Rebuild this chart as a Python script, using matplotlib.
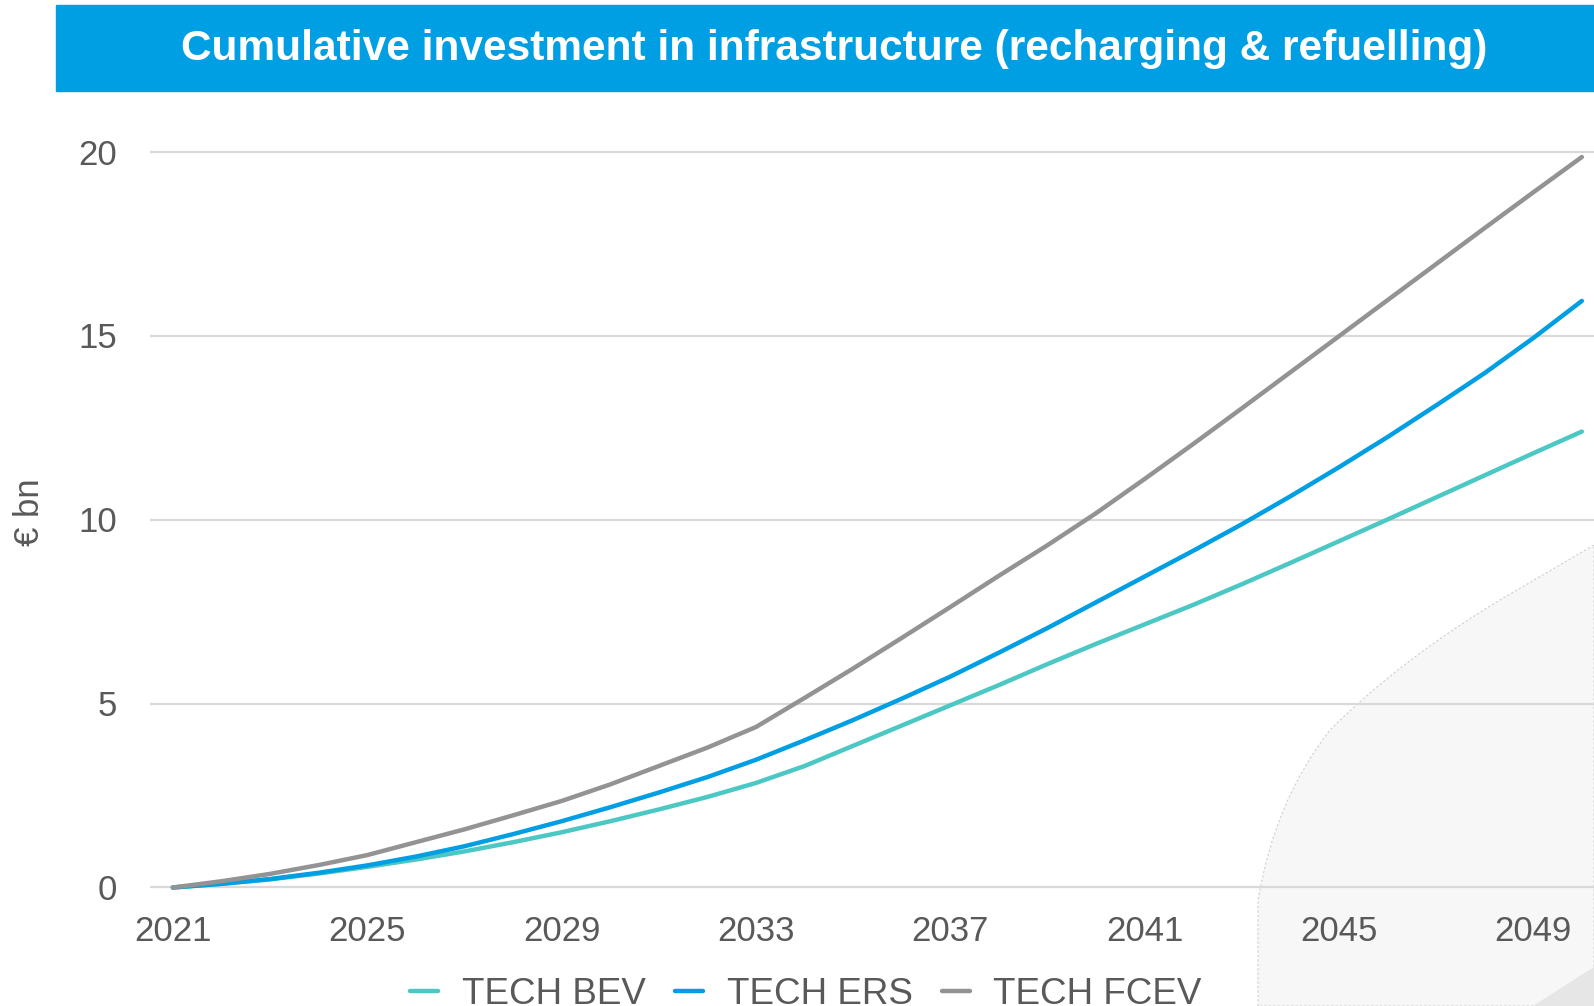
import matplotlib
matplotlib.use("Agg")
import matplotlib.pyplot as plt
from matplotlib.patches import Rectangle, PathPatch
from matplotlib.path import Path

plt.rcParams["font.family"] = ["Liberation Sans", "DejaVu Sans"]

years = list(range(2021, 2051))
tech_bev = [0, 0.10, 0.22, 0.38, 0.56, 0.76, 0.98, 1.23, 1.50, 1.80,
            2.12, 2.46, 2.84, 3.30, 3.85, 4.40, 4.95, 5.50, 6.07, 6.62,
            7.15, 7.68, 8.24, 8.82, 9.41, 10.00, 10.60, 11.20, 11.80, 12.39]
tech_ers = [0, 0.10, 0.23, 0.40, 0.60, 0.84, 1.12, 1.45, 1.80, 2.18,
            2.58, 3.00, 3.47, 4.00, 4.55, 5.13, 5.73, 6.38, 7.05, 7.75,
            8.45, 9.15, 9.87, 10.63, 11.42, 12.24, 13.10, 13.98, 14.93, 15.94]
tech_fcev = [0, 0.17, 0.37, 0.61, 0.88, 1.23, 1.58, 1.96, 2.35, 2.80,
             3.30, 3.80, 4.36, 5.15, 5.95, 6.78, 7.62, 8.47, 9.30, 10.17,
             11.10, 12.05, 13.02, 14.00, 14.98, 15.96, 16.94, 17.92, 18.89, 19.85]
series = [("TECH BEV", tech_bev, "#4BC8C3"),
          ("TECH ERS", tech_ers, "#009FE3"),
          ("TECH FCEV", tech_fcev, "#939393")]
xticks = [2021, 2025, 2029, 2033, 2037, 2041, 2045, 2049]
yticks = [0, 5, 10, 15, 20]

W, H = 1594, 1006
fig = plt.figure(figsize=(W / 100, H / 100), dpi=100)

# title banner
fig.patches.append(Rectangle((56 / W, 1 - 91 / H), (W - 56) / W, 86 / H,
                             transform=fig.transFigure, color="#009FE3", zorder=0))
fig.text(834 / W, 1 - 49 / H, "Cumulative investment in infrastructure (recharging & refuelling)",
         color="white", fontsize=30.5, fontweight="bold", ha="center", va="center")

# decorative grey shape in the lower right corner (sits behind the chart)
verts = [(1258, 1006), (1258, 900), (1275, 800), (1330, 730),
         (1400, 660), (1500, 600), (1594, 545), (1594, 1006), (1258, 1006)]
codes = [Path.MOVETO, Path.LINETO, Path.CURVE3, Path.CURVE3,
         Path.CURVE3, Path.CURVE3, Path.LINETO, Path.LINETO, Path.CLOSEPOLY]
path = Path([(x / W, 1 - y / H) for x, y in verts], codes)
fig.patches.append(PathPatch(path, transform=fig.transFigure, facecolor="#F7F7F7",
                             edgecolor="#CFCFCF", lw=0.8, ls=(0, (2, 2)), zorder=-1))
tri = Path([(1533 / W, 0), (1594 / W, 1 - 967 / H), (1594 / W, 0), (1533 / W, 0)])
fig.patches.append(PathPatch(tri, transform=fig.transFigure, facecolor="#E6E6E6",
                             edgecolor="none", zorder=-1))

# 0 at y=887.5 px, 20 at y=151.5 px; small margin so the top gridline is not clipped
pad = 0.1
unit = (887.5 - 151.5) / 20
ax = fig.add_axes([150 / W, 1 - (887.5 + pad * unit) / H, (W - 150) / W,
                   (20 + 2 * pad) * unit / H])
ax.set_zorder(1)
ax.patch.set_alpha(0)
for name, vals, col in series:
    ax.plot(years, vals, color=col, lw=3.2, label=name, clip_on=False, zorder=3,
            solid_capstyle="round", solid_joinstyle="round")

ax.set_xlim(2020.53, 2050.25)
ax.set_ylim(-pad, 20 + pad)
ax.set_xticks(xticks)
ax.set_yticks(yticks)
ax.grid(axis="y", color="#D9D9D9", lw=1.6)
ax.set_axisbelow(True)
for s in ax.spines.values():
    s.set_visible(False)
ax.tick_params(length=0, labelsize=25, colors="#595959")
ax.tick_params(axis="x", pad=17)
ax.tick_params(axis="y", pad=24)

fig.text(30 / W, 1 - 512 / H, "€ bn", rotation=90, fontsize=25, color="#595959",
         ha="center", va="center")

fig.legend(loc="center", bbox_to_anchor=(806 / W, 1 - 994 / H), ncol=3, frameon=False,
           fontsize=26.5, handlelength=0.75, handletextpad=0.65, columnspacing=0.8,
           labelcolor="#595959")

fig.savefig("out.png", dpi=100)
